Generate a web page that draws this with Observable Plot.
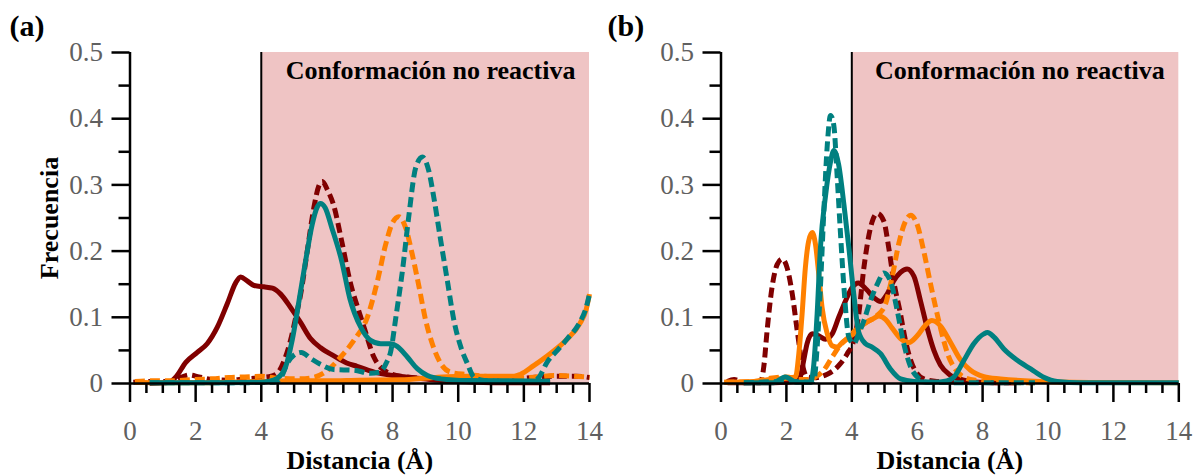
<!DOCTYPE html>
<html><head><meta charset="utf-8">
<script src="https://cdn.jsdelivr.net/npm/d3@7"></script>
<script src="https://cdn.jsdelivr.net/npm/@observablehq/plot@0.6"></script>
<style>
body{margin:0;background:#fff;}
#wrap{position:relative;width:1193px;height:475px;overflow:hidden;background:#fff;}
#wrap svg{position:absolute;top:0;}
</style></head><body><div id="wrap"></div>
<script>
// ---- tick values ----
const xMajor = [0, 2, 4, 6, 8, 10, 12, 14];
const xMinor = [0.5, 1, 1.5, 2.5, 3, 3.5, 4.5, 5, 5.5, 6.5, 7, 7.5, 8.5, 9, 9.5, 10.5, 11, 11.5, 12.5, 13, 13.5];
const yMajor = [0, 0.1, 0.2, 0.3, 0.4, 0.5];
const yMinor = [0.05, 0.15, 0.25, 0.35, 0.45];

// ---- text ----
const panelLabels = ["(a)", "(b)"];
const regionTitle = "Conformación no reactiva";
const xTitle = "Distancia (Å)";
const yTitle = "Frecuencia";
const threshold = 4;

// ---- panel (a) series: [distance, frequency] ----
const aMaroonSolid = [[0.6,0],[1.2,0.002],[1.4,0.01],[1.7,0.032],[2.05,0.047],[2.35,0.06],[2.66,0.085],[2.96,0.12],[3.22,0.152],[3.37,0.161],[3.57,0.155],[3.78,0.148],[4.08,0.146],[4.34,0.144],[4.59,0.135],[4.89,0.115],[5.2,0.092],[5.5,0.068],[5.81,0.054],[6.2,0.042],[6.6,0.031],[6.92,0.026],[7.54,0.016],[8.25,0.0105],[8.96,0.007],[9.6,0.004],[10.5,0.002],[12,0.001],[12.8,0.001]];
const aMaroonDashed = [[0.1,0.002],[0.6,0.003],[1.2,0.003],[1.5,0.008],[1.8,0.013],[2.1,0.01],[2.5,0.006],[3.0,0.005],[3.5,0.007],[4.0,0.009],[4.3,0.011],[4.5,0.016],[4.7,0.035],[4.89,0.065],[5.05,0.1],[5.2,0.135],[5.4,0.2],[5.6,0.265],[5.75,0.298],[5.86,0.305],[6.01,0.293],[6.2,0.27],[6.45,0.215],[6.7,0.155],[7.0,0.105],[7.13,0.085],[7.43,0.04],[7.74,0.02],[8.25,0.011],[9.26,0.007],[10,0.006],[11,0.006],[12,0.008],[12.9,0.011],[13.6,0.011],[14,0.009]];
const aOrangeSolid = [[0.15,0.002],[1,0.001],[2,0.001],[3,0.002],[4,0.003],[5,0.004],[6,0.004],[7,0.005],[8.25,0.0055],[9.26,0.009],[10.28,0.011],[11,0.011],[11.7,0.011],[11.9,0.014],[12.3,0.027],[12.8,0.045],[13.3,0.066],[13.7,0.09],[13.9,0.112],[14,0.135]];
const aOrangeDashed = [[0.15,0.003],[0.6,0.004],[1.2,0.004],[2,0.006],[2.5,0.007],[3,0.009],[3.5,0.01],[4,0.011],[4.5,0.008],[5.2,0.007],[5.61,0.0095],[6.01,0.0195],[6.42,0.04],[6.82,0.065],[7.23,0.1],[7.54,0.155],[7.79,0.21],[7.99,0.242],[8.19,0.252],[8.4,0.235],[8.6,0.195],[8.81,0.145],[9.01,0.095],[9.21,0.06],[9.47,0.03],[9.77,0.017],[10.28,0.0135],[10.89,0.0105],[11.7,0.0085],[12.3,0.0095],[12.92,0.012],[13.5,0.011],[14,0.0095]];
const aTealSolid = [[0.6,0.001],[2,0.001],[3,0.001],[4,0.002],[4.2,0.003],[4.49,0.008],[4.74,0.025],[4.94,0.065],[5.15,0.125],[5.35,0.185],[5.55,0.24],[5.7,0.266],[5.8,0.272],[5.95,0.265],[6.15,0.235],[6.45,0.185],[6.7,0.128],[7.03,0.085],[7.33,0.065],[7.64,0.06],[7.94,0.06],[8.14,0.056],[8.45,0.04],[8.76,0.022],[9.06,0.012],[9.47,0.007],[10.28,0.0045],[11.5,0.004],[12.8,0.0035]];
const aTealDashed = [[0.6,0.001],[3,0.001],[4.4,0.002],[4.59,0.008],[4.79,0.03],[5.0,0.043],[5.22,0.047],[5.5,0.038],[5.8,0.029],[6.21,0.021],[6.82,0.02],[7.33,0.0155],[7.6,0.017],[7.8,0.03],[7.95,0.05],[8.1,0.1],[8.3,0.17],[8.5,0.255],[8.7,0.325],[8.91,0.342],[9.11,0.32],[9.26,0.28],[9.47,0.215],[9.67,0.155],[9.87,0.095],[10.08,0.055],[10.28,0.03],[10.48,0.0095],[10.79,0.0045],[11.5,0.003],[12.31,0.003],[12.46,0.0095],[12.72,0.033],[13.02,0.05],[13.33,0.068],[13.7,0.092],[13.9,0.115],[14,0.135]];

// ---- panel (b) series ----
const bMaroonSolid = [[0.2,0.001],[1,0.001],[2,0.002],[2.3,0.003],[2.43,0.011],[2.53,0.035],[2.63,0.06],[2.79,0.075],[2.99,0.072],[3.19,0.067],[3.4,0.075],[3.6,0.1],[3.81,0.125],[4.01,0.145],[4.2,0.152],[4.45,0.142],[4.67,0.13],[4.88,0.124],[5.08,0.135],[5.28,0.155],[5.49,0.168],[5.69,0.173],[5.9,0.162],[6.1,0.125],[6.3,0.085],[6.51,0.05],[6.71,0.028],[7.0,0.013],[7.43,0.005],[7.8,0.002],[9,0.001]];
const bMaroonDashed = [[0.19,0.003],[0.4,0.006],[0.7,0.001],[1.2,0.001],[1.31,0.026],[1.41,0.08],[1.56,0.145],[1.72,0.18],[1.87,0.188],[2.02,0.175],[2.18,0.135],[2.33,0.08],[2.48,0.031],[2.63,0.01],[2.84,0.0085],[3.04,0.01],[3.25,0.014],[3.45,0.02],[3.65,0.03],[3.86,0.045],[4.06,0.065],[4.2,0.1],[4.37,0.175],[4.57,0.235],[4.78,0.257],[4.98,0.245],[5.13,0.205],[5.28,0.155],[5.49,0.105],[5.64,0.065],[5.8,0.035],[6.0,0.015],[6.2,0.007],[6.6,0.003],[7.5,0.002],[9,0.001]];
const bOrangeSolid = [[0.1,0.002],[1.0,0.003],[1.5,0.006],[2.0,0.008],[2.28,0.01],[2.38,0.045],[2.48,0.105],[2.58,0.175],[2.68,0.215],[2.79,0.228],[2.89,0.21],[2.99,0.165],[3.09,0.115],[3.25,0.075],[3.4,0.057],[3.55,0.055],[3.71,0.062],[3.91,0.07],[4.11,0.077],[4.37,0.09],[4.62,0.097],[4.83,0.102],[5.03,0.097],[5.23,0.084],[5.49,0.068],[5.75,0.062],[6.0,0.072],[6.25,0.088],[6.45,0.095],[6.71,0.087],[7.02,0.062],[7.32,0.036],[7.63,0.02],[8.04,0.0105],[8.55,0.007],[9.57,0.0035],[11.6,0.0015],[14,0.001]];
const bOrangeDashed = [[0.1,0.002],[1.0,0.003],[1.5,0.008],[2.0,0.01],[2.4,0.006],[2.7,0.006],[2.89,0.01],[3.14,0.02],[3.4,0.04],[3.65,0.058],[3.91,0.07],[4.16,0.083],[4.47,0.093],[4.78,0.103],[5.03,0.12],[5.23,0.16],[5.44,0.212],[5.64,0.245],[5.8,0.254],[6.0,0.24],[6.2,0.2],[6.41,0.15],[6.61,0.105],[6.81,0.065],[6.95,0.042],[7.12,0.025],[7.43,0.0095],[7.84,0.0045],[8.5,0.002],[9.6,0.001]];
const bTealSolid = [[0.7,0.001],[1.6,0.001],[1.97,0.01],[2.3,0.002],[2.74,0.002],[2.84,0.03],[2.94,0.105],[3.04,0.205],[3.2,0.285],[3.35,0.335],[3.45,0.352],[3.6,0.33],[3.76,0.27],[3.91,0.205],[4.06,0.135],[4.21,0.078],[4.42,0.06],[4.62,0.055],[4.88,0.045],[5.18,0.022],[5.49,0.007],[5.9,0.003],[6.5,0.002],[6.9,0.004],[7.12,0.0095],[7.43,0.035],[7.73,0.06],[8.04,0.075],[8.15,0.077],[8.35,0.07],[8.65,0.052],[9.06,0.035],[9.47,0.022],[9.87,0.0095],[10.28,0.003],[11,0.001],[14,0.001]];
const bTealDashed = [[0.7,0.001],[2.0,0.003],[2.74,0.002],[2.84,0.0045],[2.94,0.055],[3.04,0.145],[3.14,0.255],[3.25,0.36],[3.35,0.405],[3.45,0.39],[3.55,0.315],[3.65,0.23],[3.76,0.145],[3.91,0.07],[4.06,0.06],[4.21,0.075],[4.37,0.095],[4.57,0.125],[4.78,0.15],[4.98,0.167],[5.18,0.155],[5.39,0.11],[5.59,0.06],[5.8,0.025],[6.0,0.01],[6.3,0.002],[8,0.001],[9.6,0.001]];

const MAROON = "#800000", ORANGE = "#ff8000", TEAL = "#008080", PINK = "#efc4c4";
const FONT = "'Liberation Serif', 'Times New Roman', Times, serif";

function lineMark(data, color, dashed) {
  return Plot.line(data, {
    x: d => d[0], y: d => d[1], stroke: color, strokeWidth: 5,
    strokeDasharray: dashed ? "10,5" : null, strokeLinecap: "butt",
    curve: "monotone-x"
  });
}

function panel(cfg) {
  const s = cfg.series;
  const marks = [
    Plot.rect([{x1: threshold, x2: 14, y1: 0, y2: 0.5}], {x1: "x1", x2: "x2", y1: "y1", y2: "y2", fill: PINK}),
    Plot.ruleX([threshold], {stroke: "black", strokeWidth: 2}),
    lineMark(s.maroonDashed, MAROON, true),
    lineMark(s.maroonSolid, MAROON, false),
    lineMark(s.orangeDashed, ORANGE, true),
    lineMark(s.orangeSolid, ORANGE, false),
    lineMark(s.tealDashed, TEAL, true),
    lineMark(s.tealSolid, TEAL, false),
    Plot.axisX({ticks: xMinor, tickSize: 10, tickFormat: () => "", stroke: "black", strokeWidth: 2.5, label: null}),
    Plot.axisX({ticks: xMajor, tickSize: 19, tickPadding: 18, tickFormat: d => String(d), fontSize: 27, fill: "#606060", stroke: "black", strokeWidth: 2.5, label: null}),
    Plot.axisY({ticks: yMinor, tickSize: 11, tickFormat: () => "", stroke: "black", strokeWidth: 2.5, label: null}),
    Plot.axisY({ticks: yMajor, tickSize: 18, tickPadding: 9, tickFormat: d => String(d), fontSize: 27, fill: "#606060", stroke: "black", strokeWidth: 2.5, label: null}),
    Plot.ruleX([0], {stroke: "black", strokeWidth: 2.5}),
    Plot.ruleY([0], {stroke: "black", strokeWidth: 2.5}),
    Plot.text([regionTitle], {frameAnchor: "top-right", textAnchor: "end", lineAnchor: "bottom", dx: -14, dy: 26, fontSize: 26, fontWeight: "bold", fill: "black"}),
    Plot.text([xTitle], {frameAnchor: "bottom", textAnchor: "middle", lineAnchor: "bottom", dy: 85, fontSize: 26, fontWeight: "bold", fill: "black"}),
    Plot.text([cfg.label], {frameAnchor: "top-left", textAnchor: "start", lineAnchor: "bottom", dx: cfg.labelDx, dy: -17, fontSize: 30, fontWeight: "bold", fill: "black"})
  ];
  if (cfg.yTitle) marks.push(Plot.text([yTitle], {frameAnchor: "left", textAnchor: "middle", lineAnchor: "middle", rotate: -90, dx: -80, fontSize: 26, fontWeight: "bold", fill: "black"}));
  const svg = Plot.plot({
    width: cfg.width, height: 475,
    marginLeft: cfg.ml, marginRight: cfg.mr, marginTop: 52, marginBottom: 92,
    x: {domain: [0, 14]},
    y: {domain: [0, 0.5]},
    style: {fontFamily: FONT, background: "transparent", overflow: "visible", color: "black"},
    marks
  });
  svg.style.left = cfg.left + "px";
  return svg;
}

const wrap = document.getElementById("wrap");
wrap.appendChild(panel({
  left: 0, width: 600, ml: 129.5, mr: 11, label: panelLabels[0], labelDx: -120.5, yTitle: true,
  series: {maroonSolid: aMaroonSolid, maroonDashed: aMaroonDashed, orangeSolid: aOrangeSolid, orangeDashed: aOrangeDashed, tealSolid: aTealSolid, tealDashed: aTealDashed}
}));
wrap.appendChild(panel({
  left: 600, width: 593, ml: 120.5, mr: 14.7, label: panelLabels[1], labelDx: -113.5, yTitle: false,
  series: {maroonSolid: bMaroonSolid, maroonDashed: bMaroonDashed, orangeSolid: bOrangeSolid, orangeDashed: bOrangeDashed, tealSolid: bTealSolid, tealDashed: bTealDashed}
}));
</script></body></html>
